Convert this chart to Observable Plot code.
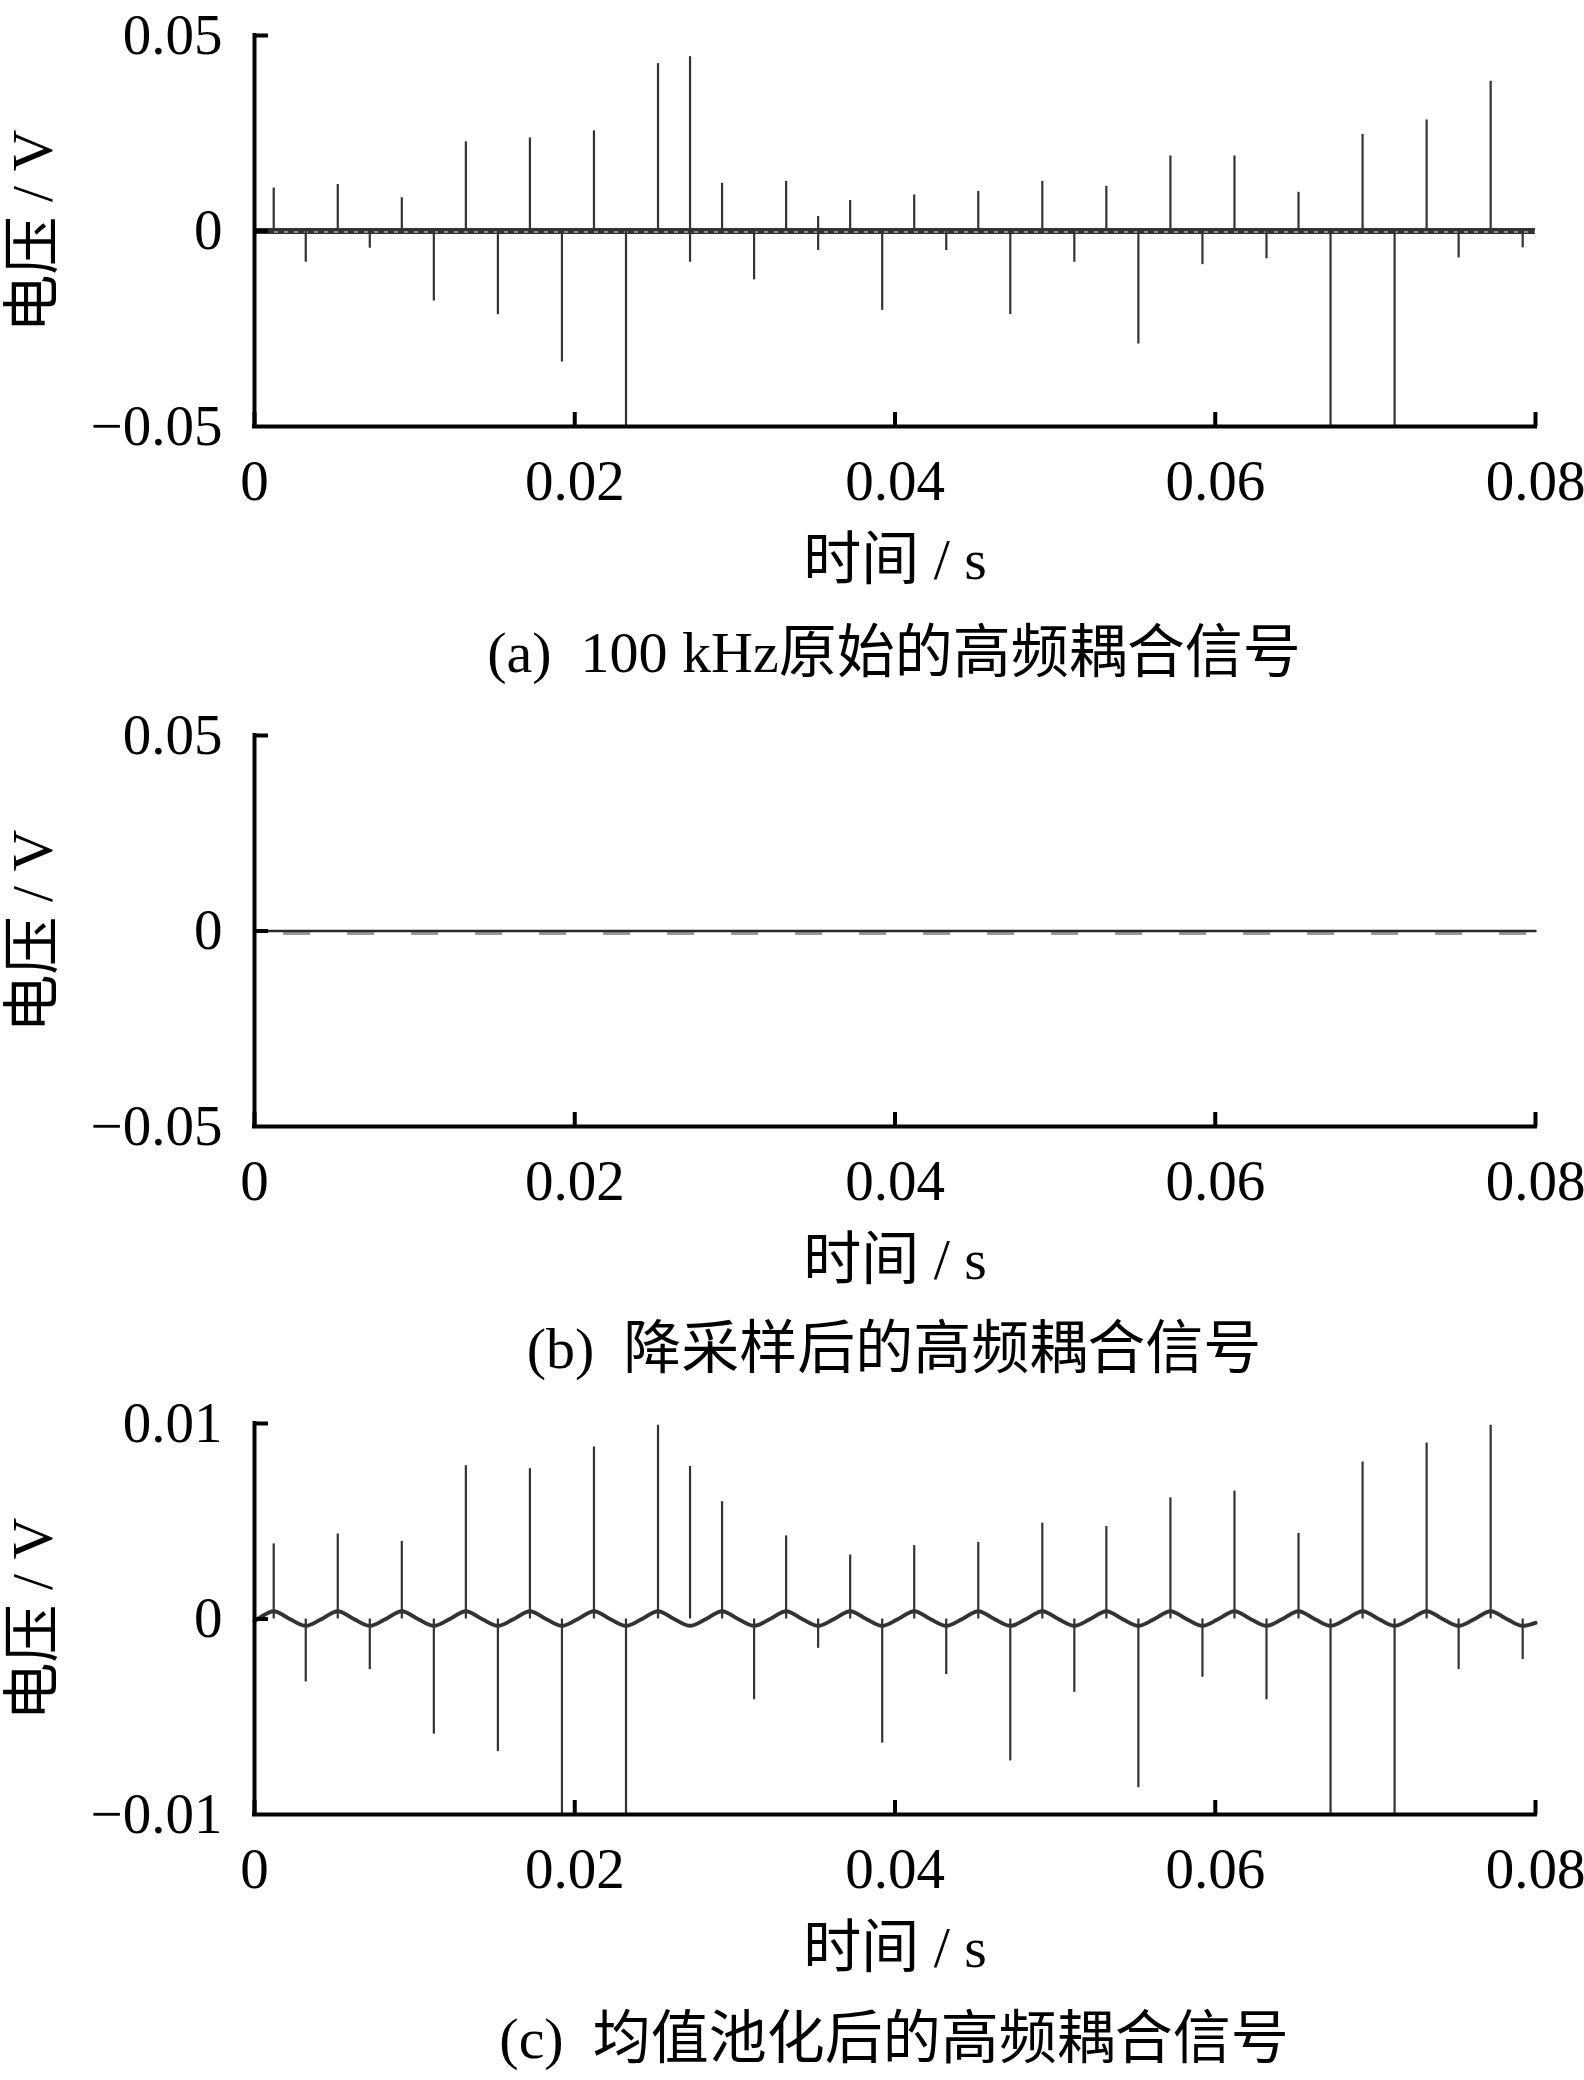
<!DOCTYPE html>
<html><head><meta charset="utf-8">
<script src="https://cdn.jsdelivr.net/npm/d3@7"></script>
<script src="https://cdn.jsdelivr.net/npm/@observablehq/plot@0.6"></script>
<style>
html,body{margin:0;padding:0;background:#fff;}
body{width:1584px;height:2080px;position:relative;overflow:hidden;font-family:"Liberation Serif","Noto Sans CJK SC",serif;}
.panel{position:absolute;left:0;width:1584px;height:600px;}
.cap{position:absolute;left:894px;transform:translateX(-50%);white-space:pre;font-size:58px;line-height:58px;color:#000;font-family:"Liberation Serif","Noto Sans CJK SC",serif;}
</style></head><body>
<script>
// ---- axes / text ----
const xTicks = [0, 0.02, 0.04, 0.06, 0.08];
const xTickLabels = ["0", "0.02", "0.04", "0.06", "0.08"];
const yTicksAB = [-0.05, 0, 0.05];
const yTickLabelsAB = ["\u22120.05", "0", "0.05"];
const yTicksC = [-0.01, 0, 0.01];
const yTickLabelsC = ["\u22120.01", "0", "0.01"];
const xLabel = "时间 / s";
const yLabel = "电压 / V";
const captions = ["(a)  100 kHz原始的高频耦合信号", "(b)  降采样后的高频耦合信号", "(c)  均值池化后的高频耦合信号"];

// ---- panel (a): 100 kHz raw coupled signal, spikes ----
const aTime = [0.0012,0.0032,0.0052,0.0072,0.0092,0.0112,0.0132,0.0152,0.0172,0.0192,0.0212,0.0232,0.0252,0.0272,0.0272,0.0292,0.0312,0.0332,0.0352,0.0352,0.0372,0.0392,0.0412,0.0432,0.0452,0.0472,0.0492,0.0512,0.0532,0.0552,0.0572,0.0592,0.0612,0.0632,0.0652,0.0672,0.0692,0.0712,0.0732,0.0752,0.0772,0.0792];
const aVolt = [0.0110,-0.0080,0.0119,-0.0044,0.0085,-0.0179,0.0228,-0.0214,0.0238,-0.0335,0.0256,-0.0500,0.0428,0.0446,-0.0080,0.0122,-0.0125,0.0127,0.0037,-0.0050,0.0078,-0.0203,0.0092,-0.0050,0.0101,-0.0214,0.0127,-0.0080,0.0114,-0.0289,0.0192,-0.0086,0.0192,-0.0071,0.0099,-0.0500,0.0247,-0.0500,0.0284,-0.0069,0.0383,-0.0043];

// ---- panel (b): downsampled signal (flat) ----
const bTime = [0, 0.08];
const bVolt = [0, 0];

// ---- panel (c): mean-pooled signal, spikes + ripple ----
const cTime = [0.0012,0.0032,0.0052,0.0072,0.0092,0.0112,0.0132,0.0152,0.0172,0.0192,0.0212,0.0232,0.0252,0.0272,0.0292,0.0312,0.0332,0.0352,0.0372,0.0392,0.0412,0.0432,0.0452,0.0472,0.0492,0.0512,0.0532,0.0552,0.0572,0.0592,0.0612,0.0632,0.0652,0.0672,0.0692,0.0712,0.0732,0.0752,0.0772,0.0792];
const cVolt = [0.00384,-0.00322,0.00435,-0.00259,0.00397,-0.00589,0.00784,-0.00678,0.00769,-0.0100,0.0088,-0.0100,0.00991,0.0078,0.0060,-0.00413,0.00425,-0.0015,0.00327,-0.00635,0.00375,-0.00284,0.00392,-0.00726,0.0049,-0.00375,0.00473,-0.00863,0.0062,-0.00298,0.00654,-0.00413,0.00438,-0.0100,0.00803,-0.0100,0.0090,-0.00259,0.00991,-0.00207];
const rippleTime = [0,0.0002,0.0012,0.0022,0.0032,0.0042,0.0052,0.0062,0.0072,0.0082,0.0092,0.0102,0.0112,0.0122,0.0132,0.0142,0.0152,0.0162,0.0172,0.0182,0.0192,0.0202,0.0212,0.0222,0.0232,0.0242,0.0252,0.0262,0.0272,0.0282,0.0292,0.0302,0.0312,0.0322,0.0332,0.0342,0.0352,0.0362,0.0372,0.0382,0.0392,0.0402,0.0412,0.0422,0.0432,0.0442,0.0452,0.0462,0.0472,0.0482,0.0492,0.0502,0.0512,0.0522,0.0532,0.0542,0.0552,0.0562,0.0572,0.0582,0.0592,0.0602,0.0612,0.0622,0.0632,0.0642,0.0652,0.0662,0.0672,0.0682,0.0692,0.0702,0.0712,0.0722,0.0732,0.0742,0.0752,0.0762,0.0772,0.0782,0.0792,0.08];
const rippleVolt = [-0.0001,0,
 0.0004,0,-0.00035,0, 0.0004,0,-0.00035,0, 0.0004,0,-0.00035,0, 0.0004,0,-0.00035,0,
 0.0004,0,-0.00035,0, 0.0004,0,-0.00035,0, 0.0004,0,-0.00035,0, 0.0004,0,-0.00035,0,
 0.0004,0,-0.00035,0, 0.0004,0,-0.00035,0, 0.0004,0,-0.00035,0, 0.0004,0,-0.00035,0,
 0.0004,0,-0.00035,0, 0.0004,0,-0.00035,0, 0.0004,0,-0.00035,0, 0.0004,0,-0.00035,0,
 0.0004,0,-0.00035,0, 0.0004,0,-0.00035,0, 0.0004,0,-0.00035,0, 0.0004,0,-0.00035,
 -0.0002];

const FONT = '"Liberation Serif","Noto Sans CJK SC",serif';
const FS = 57;
const W = 1584, H = 600, ML = 254, MR = 49, MT = 35, MB = 174;
const FW = W - ML - MR, FH = H - MT - MB;
const TICK = 14;

function zip(t, v) { return t.map((d, i) => ({t: d, v: v[i]})); }

function frameMarks(yTicks, yLabels) {
  const ymin = yTicks[0], ymax = yTicks[yTicks.length - 1];
  return [
    // inward x ticks (pointing up from the x axis)
    Plot.ruleX(xTicks, {y1: ymax, y2: ymin, insetTop: FH - TICK, strokeWidth: 4, stroke: "#000"}),
    // inward y ticks (pointing right from the y axis)
    Plot.ruleY(yTicks.slice(1), {x1: 0, x2: 0.08, insetRight: FW - TICK, strokeWidth: 4, stroke: "#000"}),
    Plot.axisX(xTicks, {tickSize: 0, tickPadding: 33, fontSize: FS, fontFamily: FONT, fill: "#000",
      tickFormat: d => xTickLabels[xTicks.indexOf(d)], label: null}),
    Plot.axisY(yTicks, {tickSize: 0, tickPadding: 32, fontSize: FS, fontFamily: FONT, fill: "#000",
      tickFormat: d => yLabels[yTicks.indexOf(d)], label: null}),
    Plot.ruleX([0], {y1: ymin, y2: ymax, strokeWidth: 4, stroke: "#000", strokeLinecap: "square"}),
    Plot.ruleY([ymin], {strokeWidth: 4, stroke: "#000", strokeLinecap: "square"}),
    Plot.text([xLabel], {frameAnchor: "bottom", dy: 134, lineAnchor: "middle", textAnchor: "middle",
      text: d => d, fontSize: 58, fontFamily: FONT, fill: "#000"}),
    Plot.text([yLabel], {frameAnchor: "left", dx: -221, rotate: -90, lineAnchor: "middle", textAnchor: "middle",
      text: d => d, fontSize: 58, fontFamily: FONT, fill: "#000"})
  ];
}

function makePlot(yTicks, yLabels, dataMarks) {
  return Plot.plot({
    width: W, height: H,
    marginLeft: ML, marginRight: MR, marginTop: MT, marginBottom: MB,
    style: {fontFamily: FONT, background: "#fff", overflow: "visible"},
    x: {domain: [0, 0.08], axis: null},
    y: {domain: [yTicks[0], yTicks[yTicks.length - 1]], axis: null},
    marks: [...dataMarks, ...frameMarks(yTicks, yLabels)]
  });
}

const plotA = makePlot(yTicksAB, yTickLabelsAB, [
  Plot.ruleY([0], {stroke: "#333", strokeWidth: 6}),
  Plot.ruleY([0], {stroke: "#888", strokeWidth: 2, strokeDasharray: "4,6", dy: 1}),
  Plot.ruleX(zip(aTime, aVolt), {x: "t", y1: 0, y2: "v", stroke: "#333", strokeWidth: 2.2})
]);
const plotB = makePlot(yTicksAB, yTickLabelsAB, [
  Plot.ruleY([0], {dy: 2, stroke: "#999", strokeWidth: 4, strokeDasharray: "27,37", strokeDashoffset: -29}),
  Plot.line(zip(bTime, bVolt), {x: "t", y: "v", stroke: "#2a2a2a", strokeWidth: 2.5})
]);
const plotC = makePlot(yTicksC, yTickLabelsC, [
  Plot.ruleX(zip(cTime, cVolt), {x: "t", y1: 0, y2: "v", stroke: "#333", strokeWidth: 2.2}),
  Plot.line(zip(rippleTime, rippleVolt), {x: "t", y: "v", stroke: "#333", strokeWidth: 4, curve: "monotone-x"})
]);

const tops = [0, 700, 1388];
const capTops = [624, 1320, 2010];
[plotA, plotB, plotC].forEach((p, i) => {
  const d = document.createElement("div");
  d.className = "panel";
  d.style.top = tops[i] + "px";
  d.appendChild(p);
  document.body.appendChild(d);
  const c = document.createElement("div");
  c.className = "cap";
  c.style.top = capTops[i] + "px";
  c.textContent = captions[i];
  document.body.appendChild(c);
});
</script>
</body></html>
